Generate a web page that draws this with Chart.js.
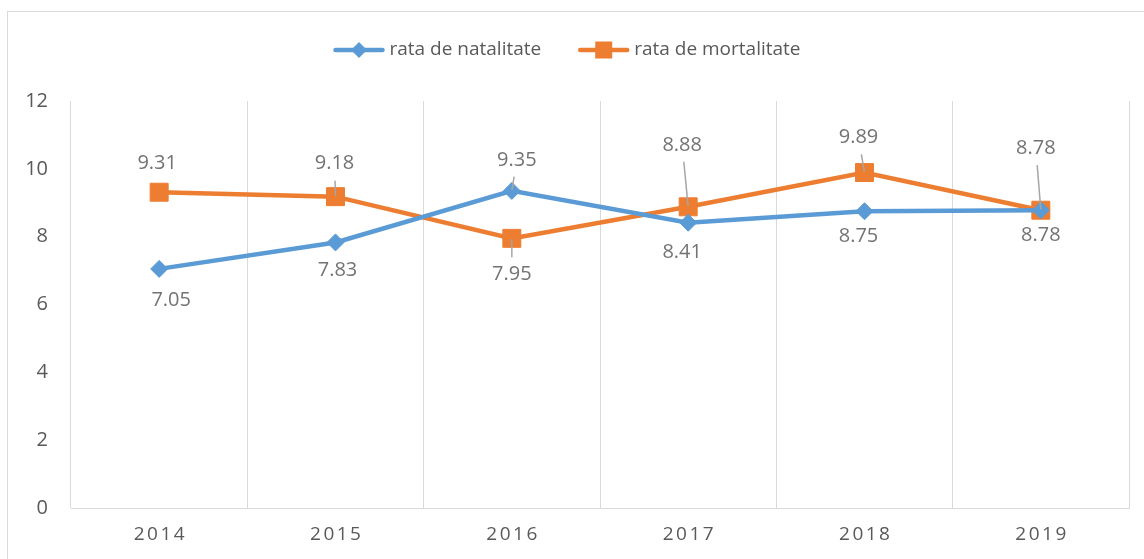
<!DOCTYPE html>
<html>
<head>
<meta charset="utf-8">
<script src="https://cdn.jsdelivr.net/npm/chart.js@4/dist/chart.umd.min.js"></script>
<style>
  html, body { margin: 0; padding: 0; background: #fff; }
</style>
</head>
<body>
<canvas id="c" width="1144" height="559"></canvas>
<script>
// ===== データ =====
const years       = ['2014', '2015', '2016', '2017', '2018', '2019'];
const natalitate  = [7.05, 7.83, 9.35, 8.41, 8.75, 8.78];
const mortalitate = [9.31, 9.18, 7.95, 8.88, 9.89, 8.78];
const yTicks      = [0, 2, 4, 6, 8, 10, 12];
const seriesNames = ['rata de natalitate', 'rata de mortalitate'];

// ===== スタイル =====
const BLUE   = '#5B9BD5';
const ORANGE = '#ED7D31';
const GRID   = '#D9D9D9';
const TEXT   = '#595959';
const LABEL  = '#737373';
const FONT   = '"Open Sans", sans-serif';

// ラベル位置（点からのずれ）とリーダー線の有無
const labelPlacement = [
  { off: [[12, 31], [2, 28], [5, -31], [-6, 30], [-6, 25], [0, 25]], leader: [0, 0, 1, 0, 0, 0] },
  { off: [[-2, -29], [-1, -33], [0, 36], [-6, -62], [-6, -35], [-5, -62]], leader: [0, 1, 1, 1, 1, 1] },
];

function drawMarker(ctx, style, x, y, r, color) {
  ctx.fillStyle = color;
  ctx.beginPath();
  if (style === 'rectRot') {
    ctx.moveTo(x, y - r); ctx.lineTo(x + r, y); ctx.lineTo(x, y + r); ctx.lineTo(x - r, y);
  } else {
    ctx.rect(x - r, y - r, r * 2, r * 2);
  }
  ctx.closePath();
  ctx.fill();
}

const decor = {
  id: 'decor',
  beforeDraw(chart) {
    const { ctx, width, height } = chart;
    ctx.save();
    ctx.fillStyle = '#fff';
    ctx.fillRect(0, 0, width, height);
    ctx.strokeStyle = GRID;
    ctx.lineWidth = 1;
    ctx.strokeRect(7.5, 11.5, width + 20, height + 20);
    ctx.restore();
  },
  afterDatasetsDraw(chart) {
    const { ctx } = chart;
    ctx.save();
    ctx.font = '20px ' + FONT;
    ctx.textAlign = 'center';
    ctx.textBaseline = 'middle';
    chart.data.datasets.forEach((ds, di) => {
      const meta = chart.getDatasetMeta(di);
      const place = labelPlacement[di];
      meta.data.forEach((pt, i) => {
        const lx = pt.x + place.off[i][0];
        const ly = pt.y + place.off[i][1];
        if (place.leader[i]) {
          const dx = pt.x - lx, dy = pt.y - ly;
          const len = Math.hypot(dx, dy);
          const ux = dx / len, uy = dy / len;
          ctx.strokeStyle = '#A6A6A6';
          ctx.lineWidth = 1.5;
          ctx.beginPath();
          ctx.moveTo(lx + ux * 17, ly + uy * 17);
          ctx.lineTo(pt.x - ux * 1, pt.y - uy * 1);
          ctx.stroke();
        }
        ctx.fillStyle = LABEL;
        ctx.fillText(ds.data[i].toFixed(2), lx, ly);
      });
    });
    ctx.restore();
  },
  afterDraw(chart) {
    const { ctx } = chart;
    const xs = chart.scales.x;
    ctx.save();
    // 横軸ラベル（字間あり）
    ctx.font = '19px ' + FONT;
    ctx.fillStyle = TEXT;
    ctx.textAlign = 'center';
    ctx.textBaseline = 'middle';
    ctx.letterSpacing = '2.5px';
    xs.ticks.forEach((t, i) => {
      ctx.fillText(years[i], xs.getPixelForTick(i) + 1.25, 535);
    });
    ctx.letterSpacing = '0px';

    // 凡例
    ctx.font = '19px ' + FONT;
    ctx.textAlign = 'left';
    const lineW = 51, gap = 5, itemGap = 37, ly = 50;
    const widths = seriesNames.map(n => lineW + gap + ctx.measureText(n).width);
    const total = widths[0] + widths[1] + itemGap;
    let x = chart.width / 2 - 5 - total / 2;
    chart.data.datasets.forEach((ds, di) => {
      ctx.strokeStyle = ds.borderColor;
      ctx.lineWidth = 4.5;
      ctx.lineCap = 'round';
      ctx.beginPath();
      ctx.moveTo(x + 2, ly);
      ctx.lineTo(x + lineW - 2, ly);
      ctx.stroke();
      if (ds.pointStyle === 'rectRot') drawMarker(ctx, 'rectRot', x + lineW / 2, ly, 8, ds.borderColor);
      else drawMarker(ctx, 'rect', x + lineW / 2, ly, 8.5, ds.borderColor);
      ctx.fillStyle = TEXT;
      ctx.fillText(seriesNames[di], x + lineW + gap, ly);
      x += widths[di] + itemGap;
    });
    ctx.restore();
  },
};

Chart.defaults.font.family = FONT;

new Chart(document.getElementById('c').getContext('2d'), {
  type: 'line',
  data: {
    labels: years,
    datasets: [
      {
        label:            seriesNames[0],
        data:             natalitate,
        borderColor:      BLUE,
        backgroundColor:  BLUE,
        borderWidth:      4.5,
        pointStyle:       'rectRot',
        pointRadius:      8.5,
        pointHoverRadius: 8.5,
        pointBorderWidth: 1,
        tension:          0,
      },
      {
        label:            seriesNames[1],
        data:             mortalitate,
        borderColor:      ORANGE,
        backgroundColor:  ORANGE,
        borderWidth:      4.5,
        pointStyle:       'rect',
        pointRadius:      12.7,
        pointHoverRadius: 12.7,
        pointBorderWidth: 1,
        tension:          0,
      },
    ],
  },
  options: {
    responsive: false,
    animation: false,
    devicePixelRatio: 1,
    layout: { padding: { top: 101, right: 15, bottom: 0, left: 0 } },
    plugins: { legend: { display: false }, tooltip: { enabled: false } },
    scales: {
      x: {
        offset: true,
        grid:   { offset: true, color: GRID, lineWidth: 1, drawTicks: false },
        border: { color: GRID, width: 1 },
        ticks:  { color: 'transparent', font: { size: 19 } },
        afterFit: s => { s.height = 51; },
      },
      y: {
        min: yTicks[0],
        max: yTicks[yTicks.length - 1],
        grid:   { display: false, drawTicks: false },
        border: { display: false },
        ticks:  { stepSize: yTicks[1] - yTicks[0], color: TEXT, padding: 23, font: { size: 20 } },
        afterFit: s => { s.width = 71; },
      },
    },
  },
  plugins: [decor],
});
</script>
</body>
</html>
